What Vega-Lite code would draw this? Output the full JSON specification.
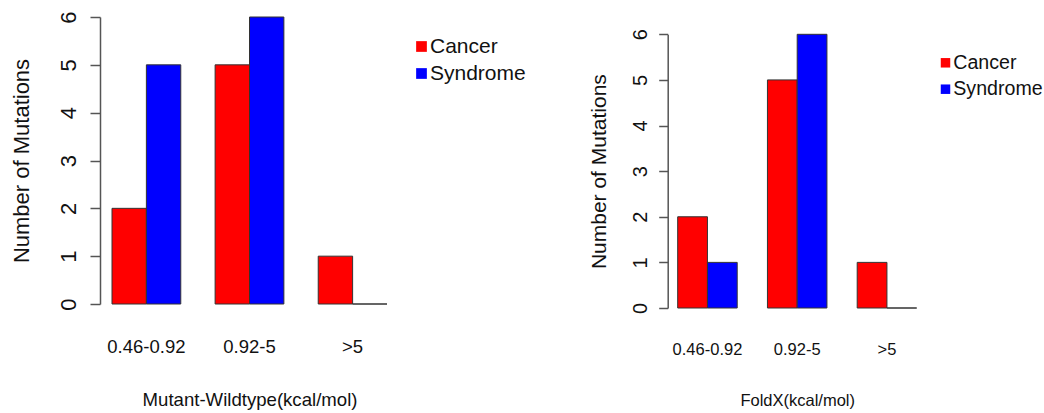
{
  "$schema": "https://vega.github.io/schema/vega-lite/v6.json",
  "padding": {"left": 10, "top": 10, "right": 0, "bottom": 0},
  "background": "white",
  "config": {
    "font": "Liberation Sans",
    "view": {"stroke": null},
    "axis": {"grid": false, "labelColor": "#111", "titleColor": "#111", "labelFont": "Liberation Sans", "titleFont": "Liberation Sans", "titleFontWeight": "normal", "domainColor": "#555", "tickColor": "#555", "domainWidth": 1.5, "tickWidth": 1.5},
    "legend": {"labelFont": "Liberation Sans", "labelColor": "#111", "title": null}
  },
  "datasets": {
    "mw": [
      {"bin": "0.46-0.92", "group": "Cancer", "count": 2},
      {"bin": "0.46-0.92", "group": "Syndrome", "count": 5},
      {"bin": "0.92-5", "group": "Cancer", "count": 5},
      {"bin": "0.92-5", "group": "Syndrome", "count": 6},
      {"bin": ">5", "group": "Cancer", "count": 1},
      {"bin": ">5", "group": "Syndrome", "count": 0}
    ],
    "foldx": [
      {"bin": "0.46-0.92", "group": "Cancer", "count": 2},
      {"bin": "0.46-0.92", "group": "Syndrome", "count": 1},
      {"bin": "0.92-5", "group": "Cancer", "count": 5},
      {"bin": "0.92-5", "group": "Syndrome", "count": 6},
      {"bin": ">5", "group": "Cancer", "count": 1},
      {"bin": ">5", "group": "Syndrome", "count": 0}
    ]
  },
  "bounds": "flush",
  "spacing": 290.7,
  "resolve": {"scale": {"color": "independent", "x": "independent", "y": "independent", "xOffset": "independent"}},
  "hconcat": [
    {
      "data": {"name": "mw"},
      "width": 275,
      "height": 291,
      "mark": {"type": "bar", "stroke": "#333", "strokeWidth": 1},
      "encoding": {
        "x": {"field": "bin", "type": "nominal", "sort": null,
          "scale": {"paddingInner": 0.333, "paddingOuter": 0},
          "axis": {"title": "Mutant-Wildtype(kcal/mol)", "labelAngle": 0, "domain": false, "ticks": false, "tickSize": 0, "labelPadding": 44.8, "labelBaseline": "alphabetic", "labelFontSize": 18.5, "titleFontSize": 18.6, "titleBaseline": "alphabetic", "minExtent": 60, "maxExtent": 60, "titlePadding": 37.5}},
        "xOffset": {"field": "group", "type": "nominal", "sort": ["Cancer", "Syndrome"], "scale": {"paddingInner": 0, "paddingOuter": 0}},
        "y": {"field": "count", "type": "quantitative",
          "scale": {"domain": [0, 6], "range": [287, 0], "nice": false},
          "axis": {"title": "Number of Mutations", "values": [0, 1, 2, 3, 4, 5, 6], "offset": 12, "tickSize": 10, "labelAngle": 270, "labelAlign": "center", "labelBaseline": "alphabetic", "labelPadding": 15, "labelFontSize": 22, "titleFontSize": 22, "titleBaseline": "alphabetic", "minExtent": 50, "maxExtent": 50, "titlePadding": 22}},
        "color": {"field": "group", "type": "nominal",
          "scale": {"domain": ["Cancer", "Syndrome"], "range": ["#FF0000", "#0000FF"]},
          "legend": {"orient": "none", "legendX": 299, "legendY": 19, "symbolType": "square", "symbolSize": 115, "symbolStrokeWidth": 0, "symbolOpacity": 1, "labelFontSize": 21, "labelOffset": -2, "rowPadding": 5, "padding": 0}}
      }
    },
    {
      "data": {"name": "foldx"},
      "width": 239,
      "height": 291,
      "mark": {"type": "bar", "stroke": "#333", "strokeWidth": 1},
      "encoding": {
        "x": {"field": "bin", "type": "nominal", "sort": null,
          "scale": {"paddingInner": 0.337, "paddingOuter": 0},
          "axis": {"title": "FoldX(kcal/mol)", "labelAngle": 0, "domain": false, "ticks": false, "tickSize": 0, "labelPadding": 46.9, "labelBaseline": "alphabetic", "labelFontSize": 16.5, "titleFontSize": 16.5, "titleBaseline": "alphabetic", "minExtent": 60, "maxExtent": 60, "titlePadding": 37.5}},
        "xOffset": {"field": "group", "type": "nominal", "sort": ["Cancer", "Syndrome"], "scale": {"paddingInner": 0, "paddingOuter": 0}},
        "y": {"field": "count", "type": "quantitative",
          "scale": {"domain": [0, 6], "range": [291, 17.3], "nice": false},
          "axis": {"title": "Number of Mutations", "values": [0, 1, 2, 3, 4, 5, 6], "offset": 10, "tickSize": 9, "labelAngle": 270, "labelAlign": "center", "labelBaseline": "alphabetic", "labelPadding": 12, "labelFontSize": 20, "titleFontSize": 21, "titleBaseline": "alphabetic", "minExtent": 40, "maxExtent": 40, "titlePadding": 22.5}},
        "color": {"field": "group", "type": "nominal",
          "scale": {"domain": ["Cancer", "Syndrome"], "range": ["#FF0000", "#0000FF"]},
          "legend": {"orient": "none", "legendX": 258, "legendY": 36, "symbolType": "square", "symbolSize": 90, "symbolStrokeWidth": 0, "symbolOpacity": 1, "labelFontSize": 19.6, "labelOffset": -2, "rowPadding": 5.4, "padding": 0}}
      }
    }
  ]
}
